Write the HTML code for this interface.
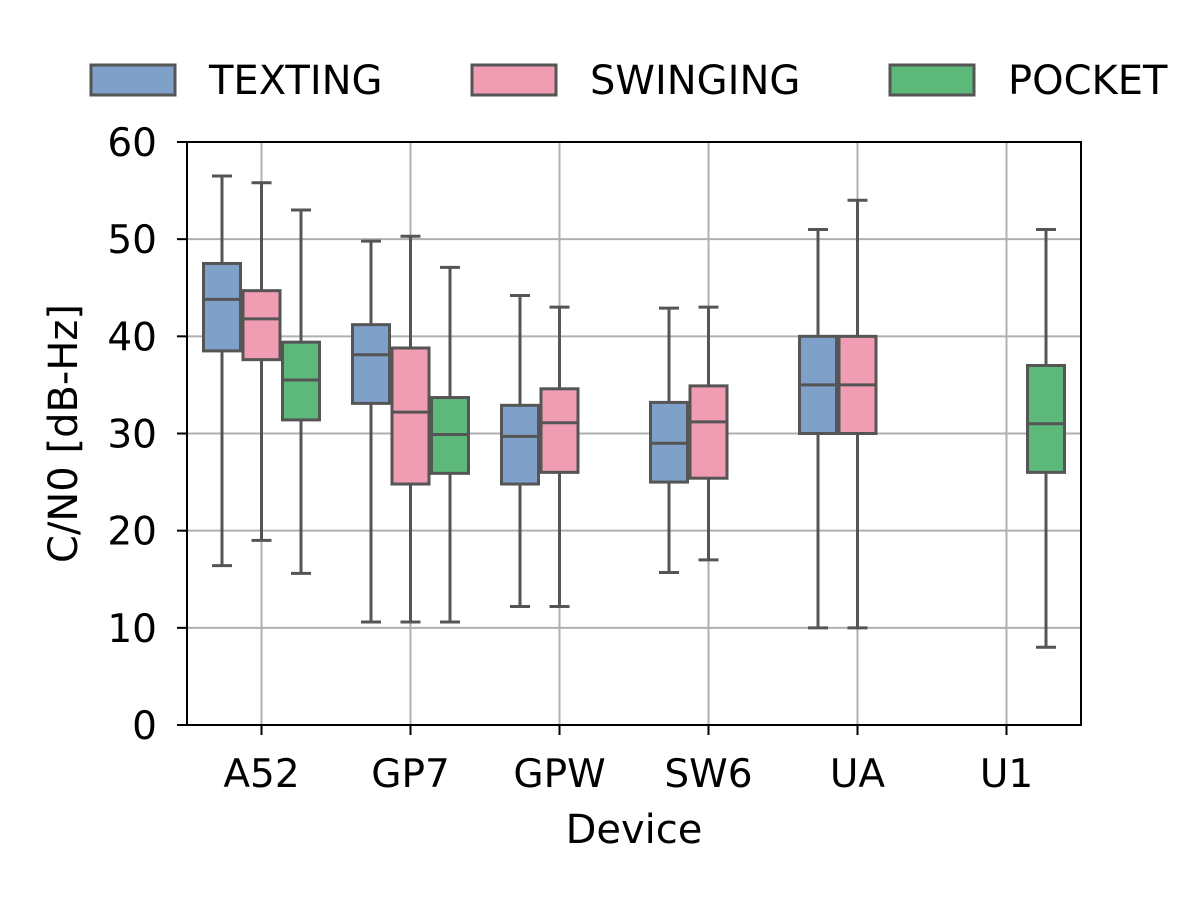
<!DOCTYPE html>
<html><head><meta charset="utf-8"><style>
html,body{margin:0;padding:0;background:#fff;}
svg text{font-family:"DejaVu Sans","Liberation Sans",sans-serif;fill:#000;}
</style></head><body>
<svg id="chart" width="1200" height="900" viewBox="0 0 1200 900" xmlns="http://www.w3.org/2000/svg"></svg>
<script>
const categories = ["A52","GP7","GPW","SW6","UA","U1"];
const seriesNames = ["TEXTING","SWINGING","POCKET"];
const seriesColors = ["#7fa0c8","#f09cb3","#5cb97a"];
const yTicks = [0,10,20,30,40,50,60];
// [whislo, q1, median, q3, whishi]; null = no data
const texting = [[16.4,38.5,43.8,47.5,56.5],[10.6,33.1,38.1,41.2,49.8],[12.2,24.8,29.7,32.9,44.2],[15.7,25,29,33.2,42.9],[10,30,35,40,51],null];
const swinging = [[19,37.6,41.8,44.7,55.8],[10.6,24.8,32.2,38.8,50.3],[12.2,26,31.1,34.6,43],[17,25.4,31.2,34.9,43],[10,30,35,40,54],null];
const pocket = [[15.6,31.4,35.5,39.4,53],[10.6,25.9,29.9,33.7,47.1],null,null,null,[8,26,31,37,51]];
const series = [texting, swinging, pocket];

const svg = document.getElementById('chart');
const NS = "http://www.w3.org/2000/svg";
const L=187,R=1081,T=142,B=725;
const yMin=0,yMax=60;
const y = v => B - (v-yMin)/(yMax-yMin)*(B-T);
const band = (R-L)/categories.length;
const xc = i => L + band*(i+0.5);
const boxW = 37, off = 39.5;
function mk(tag, attrs, parent){const e=document.createElementNS(NS,tag);for(const k in attrs)e.setAttribute(k,attrs[k]);(parent||svg).appendChild(e);return e;}

yTicks.forEach(t=>{
  const g=mk('line',{x1:L,x2:R,y1:y(t),y2:y(t),stroke:'#b0b0b0','stroke-width':2});
  
  
});
categories.forEach((c,i)=>{
  const g=mk('line',{x1:xc(i),x2:xc(i),y1:T,y2:B,stroke:'#b0b0b0','stroke-width':2});
  
  
});

series.forEach((ser,s)=>{
  ser.forEach((d,i)=>{
    if(!d) return;
    const cx = xc(i) + (s-1)*off;
    const g = mk('g',{});
    
    
    const st={stroke:'#555','stroke-width':3,fill:'none'};
    mk('line',Object.assign({x1:cx,x2:cx,y1:y(d[0]),y2:y(d[1])},st),g);
    mk('line',Object.assign({x1:cx,x2:cx,y1:y(d[3]),y2:y(d[4])},st),g);
    mk('line',Object.assign({x1:cx-10,x2:cx+10,y1:y(d[0]),y2:y(d[0])},st),g);
    mk('line',Object.assign({x1:cx-10,x2:cx+10,y1:y(d[4]),y2:y(d[4])},st),g);
    mk('rect',{x:cx-boxW/2,y:y(d[3]),width:boxW,height:y(d[1])-y(d[3]),fill:seriesColors[s],stroke:'#555','stroke-width':3},g);
    mk('line',Object.assign({x1:cx-boxW/2,x2:cx+boxW/2,y1:y(d[2]),y2:y(d[2])},st),g);
  });
});

const fr=mk('rect',{x:L,y:T,width:R-L,height:B-T,fill:'none',stroke:'#000','stroke-width':2});



yTicks.forEach(t=>{
  mk('line',{x1:L-10,x2:L,y1:y(t),y2:y(t),stroke:'#000','stroke-width':2});
  const tx=mk('text',{x:L-30,y:y(t)+14,'text-anchor':'end','font-size':39});
  tx.textContent=t;
  
  
});
categories.forEach((c,i)=>{
  mk('line',{x1:xc(i),x2:xc(i),y1:B,y2:B+10,stroke:'#000','stroke-width':2});
  const tx=mk('text',{x:xc(i),y:787,'text-anchor':'middle','font-size':39});
  tx.textContent=c;
  
  
});

const xt=mk('text',{x:(L+R)/2,y:843,'text-anchor':'middle','font-size':40});
xt.textContent='Device';


const yt=mk('text',{x:0,y:0,'text-anchor':'middle','font-size':40,transform:`translate(77,${(T+B)/2}) rotate(-90)`});
yt.textContent='C/N0 [dB-Hz]';



const legX=[91,472,890];
seriesNames.forEach((n,s)=>{
  const g=mk('g',{});
  
  
  mk('rect',{x:legX[s],y:65,width:84,height:30,fill:seriesColors[s],stroke:'#555','stroke-width':3},g);
  const t=mk('text',{x:legX[s]+118,y:94,'font-size':40},g);
  t.textContent=n;
});
</script>
</body></html>
